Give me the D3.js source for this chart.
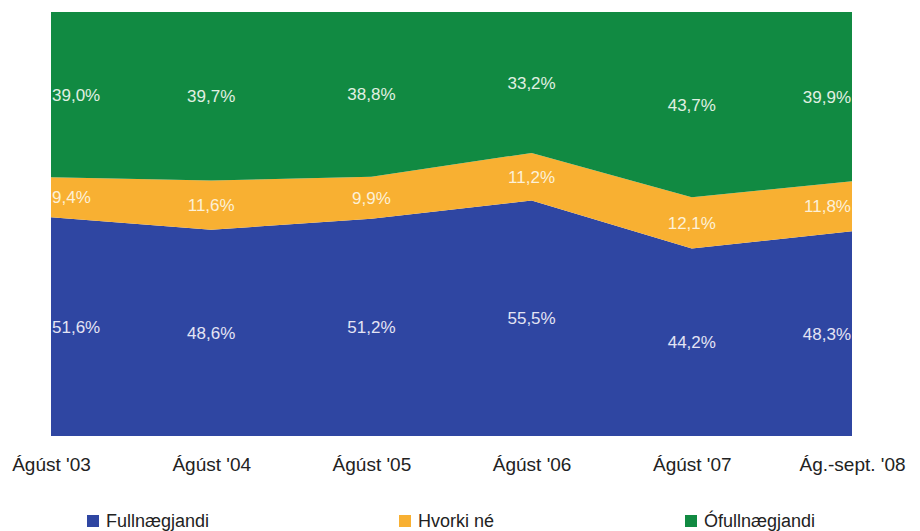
<!DOCTYPE html>
<html><head><meta charset="utf-8">
<script src="https://cdn.jsdelivr.net/npm/d3@7"></script>
<style>body{margin:0;background:#fff;}svg{display:block;}</style>
</head><body><svg id="c" width="920" height="531"></svg>
<script>
const categories = ["Ágúst '03","Ágúst '04","Ágúst '05","Ágúst '06","Ágúst '07","Ág.-sept. '08"];
const fullnaegjandi = [51.6,48.6,51.2,55.5,44.2,48.3];
const hvorki = [9.4,11.6,9.9,11.2,12.1,11.8];
const ofullnaegjandi = [39.0,39.7,38.8,33.2,43.7,39.9];
const seriesNames = ["Fullnægjandi","Hvorki né","Ófullnægjandi"];
const colors = ["#2f46a2","#f8b032","#118a42"];
const labelColors = ["#e4e4f4","#fdf1d8","#e0f0e2"];

const svg = d3.select("#c");
const m = {left:51, right:920-852, top:12, bottom:531-436};
const W = 920, H = 531;
const x = d3.scalePoint().domain(categories).range([m.left, W-m.right]);
const y = d3.scaleLinear().domain([0,1]).range([H-m.bottom, m.top]);

const rows = categories.map((c,i)=>({cat:c, s0:fullnaegjandi[i], s1:hvorki[i], s2:ofullnaegjandi[i]}));
const keys = ["s0","s1","s2"];
const stack = d3.stack().keys(keys).offset(d3.stackOffsetExpand);
const layers = stack(rows);
const area = d3.area().x(d=>x(d.data.cat)).y0(d=>y(d[0])).y1(d=>y(d[1])).curve(d3.curveLinear);

svg.selectAll("path.layer").data(layers).join("path")
  .attr("class","layer").attr("d",area).attr("fill",(d,i)=>colors[i]);

const fmt = v => v.toFixed(1).replace(".",",") + "%";
const n = categories.length;
layers.forEach((L,li)=>{
  svg.append("g").selectAll("text").data(L).join("text")
    .attr("x",d=>x(d.data.cat))
    .attr("y",d=>(y(d[0])+y(d[1]))/2)
    .attr("dy","0.36em")
    .attr("text-anchor",(d,i)=> i===0 ? "start" : (i===n-1 ? "end" : "middle"))
    .attr("dx",(d,i)=> i===0 ? 1 : (i===n-1 ? -1 : 0))
    .attr("font-family","Liberation Sans, Arial, sans-serif")
    .attr("font-size",17)
    .attr("fill",labelColors[li])
    .text((d,i)=>fmt(rows[i][keys[li]]));
});

const xAxis = d3.axisBottom(x).tickSize(0).tickPadding(0);
const gx = svg.append("g").attr("transform",`translate(0,${H-m.bottom})`).call(xAxis);
gx.select(".domain").remove();
gx.selectAll("text").attr("y",28).attr("dy","0.36em")
  .attr("font-family","Liberation Sans, Arial, sans-serif").attr("font-size",19).attr("fill","#222");

const legendX = [87,399,685];
const lg = svg.append("g");
seriesNames.forEach((name,i)=>{
  lg.append("rect").attr("x",legendX[i]).attr("y",515).attr("width",12).attr("height",12).attr("fill",colors[i]);
  lg.append("text").attr("x",legendX[i]+19).attr("y",521).attr("dy","0.36em")
    .attr("font-family","Liberation Sans, Arial, sans-serif").attr("font-size",18).attr("fill","#222").text(name);
});
</script></body></html>
